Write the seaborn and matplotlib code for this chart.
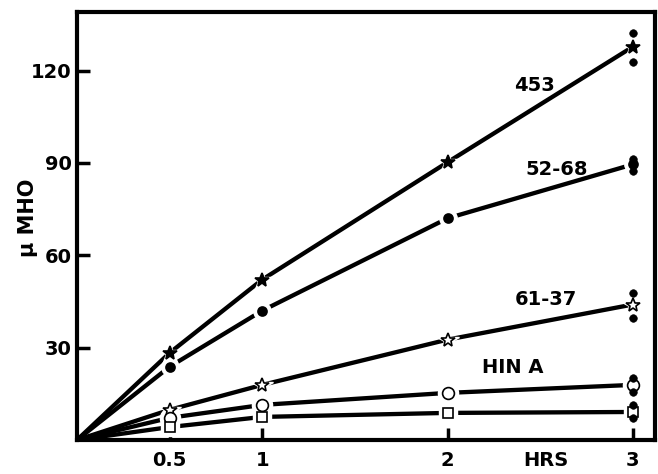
import numpy as np
import pandas as pd
import matplotlib
matplotlib.use("Agg")
import matplotlib.pyplot as plt
import matplotlib.transforms as mtransforms
import seaborn as sns

# Conductance (micro-mho) over time for each line
hours = [0, 0.5, 1, 2, 3]
s453 = [0, 28.3, 52.1, 90.2, 127.7]
s5268 = [0, 23.8, 42.0, 72.0, 89.5]
s6137 = [0, 9.8, 17.9, 32.6, 44.0]
hina = [0, 7.2, 11.4, 15.3, 17.9]
lowest = [0, 4.2, 7.5, 8.8, 9.1]

# Replicate readings at 3 h
rep_hours = 3
rep453 = [132.2, 122.8]
rep5268 = [91.2, 87.4]
rep6137 = [47.9, 39.7]
rep_hina = [20.2, 15.6]
rep_lowest = [11.4, 7.2]

series_labels = ["453", "52-68", "61-37", "HIN A", ""]
x_ticks = [0.5, 1, 2, 3]
x_tick_labels = ["0.5", "1", "2", "3"]
y_ticks = [30, 60, 90, 120]

sns.set_style("white")
plt.rcParams["font.family"] = ["DejaVu Sans"]
plt.rcParams["font.weight"] = "bold"

fig = plt.figure(figsize=(6.58, 4.74), dpi=100)
ax = fig.add_axes([77 / 658, 34 / 474, 578 / 658, 428 / 474])

all_series = [s453, s5268, s6137, hina, lowest]
names = ["453", "52-68", "61-37", "HINA", "lowest"]
df = pd.DataFrame(
    {"hours": np.tile(hours, len(all_series)),
     "value": np.concatenate(all_series),
     "line": np.repeat(names, len(hours))}
)

sns.lineplot(data=df, x="hours", y="value", units="line", estimator=None,
             color="black", lw=3.1, ax=ax, legend=False, zorder=2)

marker_styles = {
    "453": dict(marker="*", filled=True, size=10),
    "52-68": dict(marker="o", filled=True, size=6.5),
    "61-37": dict(marker="*", filled=False, size=10),
    "HINA": dict(marker="o", filled=False, size=8.5),
    "lowest": dict(marker="s", filled=False, size=7),
}

pts = df[df["hours"] > 0]
for name, st in marker_styles.items():
    sub = pts[pts["line"] == name]
    # white halo breaks the line around each marker
    ax.plot(sub["hours"], sub["value"], ls="none", marker=st["marker"],
            ms=st["size"] + 6, mfc="white", mec="white", zorder=3)
    ax.plot(sub["hours"], sub["value"], ls="none", marker=st["marker"],
            ms=st["size"], mfc="black" if st["filled"] else "white",
            mec="black", mew=1.2, zorder=4)

reps = pd.DataFrame({
    "hours": rep_hours,
    "value": np.concatenate([rep453, rep5268, rep6137, rep_hina, rep_lowest]),
})
sns.scatterplot(data=reps, x="hours", y="value", color="black", s=30,
                edgecolor="black", ax=ax, zorder=5, legend=False)

ax.set_xlim(0, 3.12)
ax.set_ylim(0, 139)
ax.set_xticks(x_ticks)
ax.set_xticklabels(x_tick_labels)
ax.set_yticks(y_ticks)
ax.set_yticklabels([str(v) for v in y_ticks])
ax.set_xlabel("")
ax.set_ylabel("")

for sp in ax.spines.values():
    sp.set_visible(True)
    sp.set_linewidth(3)
    sp.set_color("black")

ax.tick_params(axis="both", direction="in", length=9, width=2.5,
               colors="black", labelsize=14)
ax.tick_params(axis="x", pad=8)
ax.tick_params(axis="y", pad=4, left=True)
ax.tick_params(axis="x", bottom=True)
for lab in ax.get_xticklabels() + ax.get_yticklabels():
    lab.set_fontweight("bold")

# series labels
label_pos = [(2.47, 115), (2.59, 88), (2.53, 45.6), (2.35, 23.5)]
for text, (lx, ly) in zip(series_labels[:4], label_pos):
    ax.text(lx, ly, text, fontsize=14, fontweight="bold",
            ha="center", va="center", color="black")

trans = mtransforms.blended_transform_factory(ax.transData, ax.transAxes)
ax.text(2.53, -0.049, "HRS", transform=trans, fontsize=14,
        fontweight="bold", ha="center", va="center", color="black")

fig.text(28 / 658, 1 - 218 / 474, "μ MHO", rotation=90, fontsize=15,
         fontweight="bold", ha="center", va="center", color="black")

fig.savefig("out.png", dpi=100)
